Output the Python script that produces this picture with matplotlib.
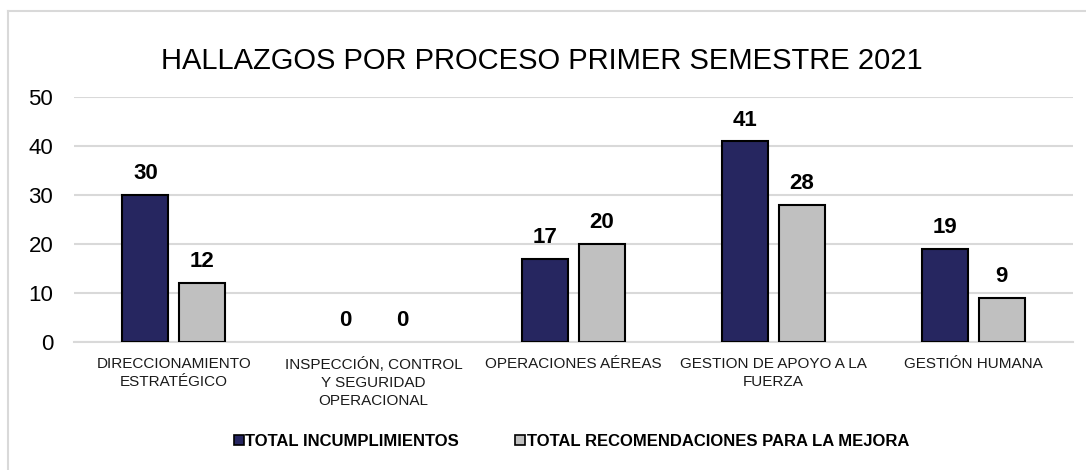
import matplotlib
matplotlib.use("Agg")
import matplotlib.pyplot as plt
from matplotlib.lines import Line2D
import numpy as np

plt.rcParams['font.family'] = ['Liberation Sans', 'DejaVu Sans']

categories = ["DIRECCIONAMIENTO\nESTRATÉGICO",
              "INSPECCIÓN, CONTROL\nY SEGURIDAD\nOPERACIONAL",
              "OPERACIONES AÉREAS",
              "GESTION DE APOYO A LA\nFUERZA",
              "GESTIÓN HUMANA"]
incumplimientos = [30, 0, 17, 41, 19]
recomendaciones = [12, 0, 20, 28, 9]
series_names = ["TOTAL INCUMPLIMIENTOS", "TOTAL RECOMENDACIONES PARA LA MEJORA"]
yticks = [0, 10, 20, 30, 40, 50]
title = "HALLAZGOS POR PROCESO PRIMER SEMESTRE 2021"

W, H = 1086, 470
fig = plt.figure(figsize=(W/100, H/100), dpi=100)
ax = fig.add_axes([74/W, 1-341.7/H, (1073-74)/W, (341.7-97.3)/H])

dark = "#262660"
gray = "#c0c0c0"
x = np.arange(len(categories))
bw = 0.23
off = 0.1425
b1 = ax.bar(x - off, incumplimientos, bw, color=dark, edgecolor="black",
            linewidth=[1.5 if v else 0 for v in incumplimientos], zorder=3)
b2 = ax.bar(x + off, recomendaciones, bw, color=gray, edgecolor="black",
            linewidth=[1.5 if v else 0 for v in recomendaciones], zorder=3)

for bars, vals in ((b1, incumplimientos), (b2, recomendaciones)):
    for r, v in zip(bars, vals):
        ax.annotate(str(v), (r.get_x() + r.get_width()/2, v), xytext=(0, 11.3),
                    textcoords="offset points", ha="center", va="baseline",
                    fontsize=16, fontweight="bold", color="black")

ax.set_xlim(-0.5, 4.5)
ax.set_ylim(0, 50)
ax.set_yticks(yticks)
ax.yaxis.grid(True, color="#d9d9d9", linewidth=1.5, zorder=0)
ax.set_axisbelow(True)
for s in ["top", "right", "left"]:
    ax.spines[s].set_visible(False)
ax.spines["bottom"].set_color("#d9d9d9")
ax.spines["bottom"].set_linewidth(1.5)
ax.tick_params(axis="y", length=0, pad=15, labelsize=16, labelcolor="black")
ax.tick_params(axis="x", length=0, pad=11, labelsize=11, labelcolor="#1a1a1a")
ax.set_xticks(x)
ax.set_xticklabels(categories, linespacing=1.35)

fig.text(542/W, 1-61/H, title, ha="center", va="center", fontsize=21, color="black")

handles = [Line2D([], [], marker="s", linestyle="none", markersize=7.5,
                  markerfacecolor=c, markeredgecolor="black", markeredgewidth=1.2)
           for c in (dark, gray)]
leg = fig.legend(handles, series_names, loc="center", bbox_to_anchor=(571/W, 1-441/H),
                 ncol=2, frameon=False, handletextpad=0.05, columnspacing=3.3,
                 handlelength=0.7, prop={"weight": "bold", "size": 12})

# chart area border
fig.add_artist(Line2D([8/W, 8/W], [0, 1-11/H], transform=fig.transFigure, color="#d9d9d9", linewidth=1.5))
fig.add_artist(Line2D([8/W, 1], [1-11/H, 1-11/H], transform=fig.transFigure, color="#d9d9d9", linewidth=1.5))

fig.savefig("out.png", dpi=100, facecolor="white")
